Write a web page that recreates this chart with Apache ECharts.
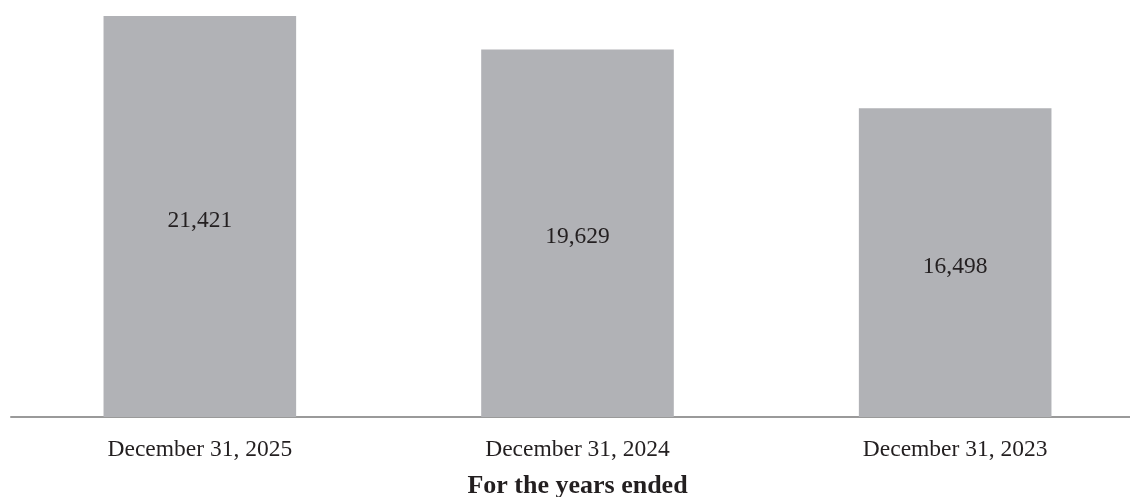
<!doctype html>
<html>
    <head>
        <meta charset="utf-8">
        <title>For the years ended</title>
        <style>
            html, body { margin: 0; padding: 0; background: #fff; overflow: hidden; }
            #main { width: 1130px; height: 497px; }
        </style>
    </head>
    <body>
        <div id="main"></div>
        <script src="https://cdn.jsdelivr.net/npm/echarts@6/dist/echarts.min.js"></script>
        <script>
            var categories = ['December 31, 2025', 'December 31, 2024', 'December 31, 2023'];
            var values = [21421, 19629, 16498];
            var axisTitle = 'For the years ended';

            var serif = '"Liberation Serif", "DejaVu Serif", serif';

            var chart = echarts.init(document.getElementById('main'));

            chart.setOption({
                animation: false,
                grid: {
                    left: 11,
                    right: -14,
                    top: 16,
                    bottom: 80,
                    outerBoundsMode: 'none',
                    containLabel: false
                },
                xAxis: {
                    type: 'category',
                    data: categories,
                    name: axisTitle,
                    nameLocation: 'middle',
                    nameGap: 56,
                    nameTextStyle: {
                        fontFamily: serif,
                        fontWeight: 'bold',
                        fontSize: 26,
                        color: '#231f20'
                    },
                    axisLine: { lineStyle: { color: '#9a9a9a', width: 2 } },
                    axisTick: { show: false },
                    axisLabel: {
                        margin: 21,
                        fontFamily: serif,
                        fontSize: 23.5,
                        color: '#231f20'
                    }
                },
                yAxis: {
                    type: 'value',
                    min: 0,
                    max: 'dataMax',
                    show: false,
                    splitLine: { show: false }
                },
                series: [{
                    type: 'bar',
                    data: values,
                    barWidth: '51%',
                    itemStyle: { color: '#b1b2b6' },
                    label: {
                        show: true,
                        position: 'inside',
                        offset: [0, 4],
                        fontFamily: serif,
                        fontSize: 23.5,
                        color: '#231f20',
                        formatter: function (p) {
                            return p.value.toLocaleString('en-US');
                        }
                    }
                }]
            });

            window.onresize = chart.resize;
        </script>
    </body>
</html>
